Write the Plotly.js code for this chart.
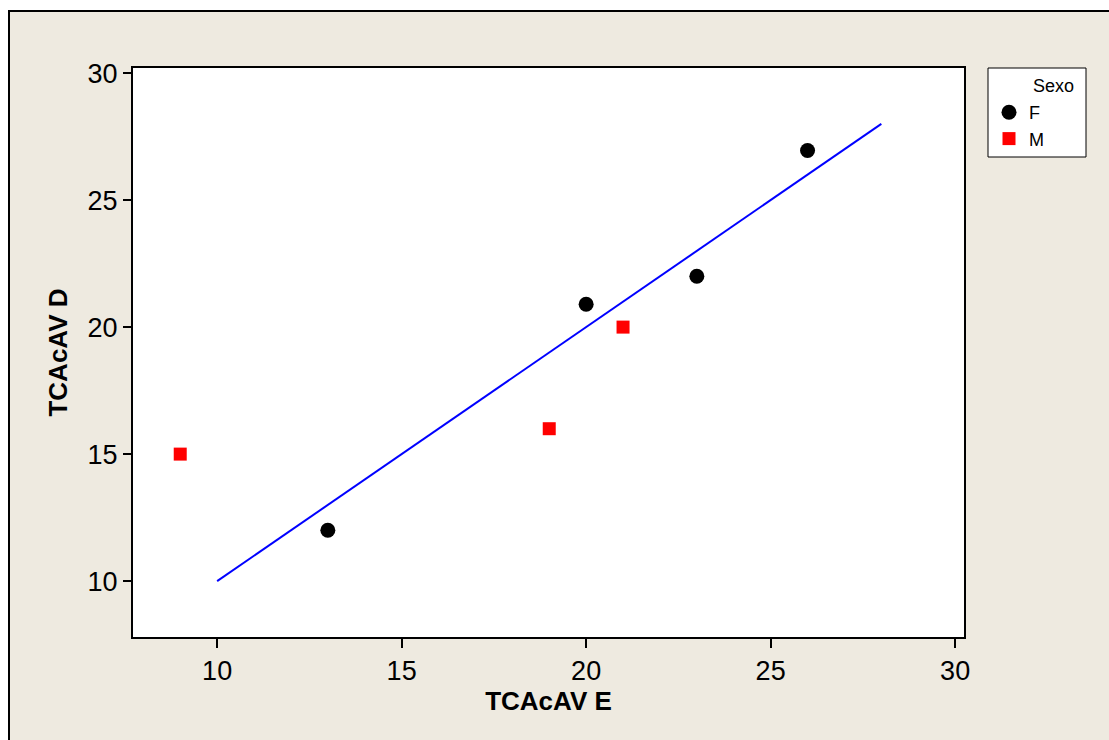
<!DOCTYPE html>
<html>
<head>
<meta charset="utf-8">
<script src="https://cdn.plot.ly/plotly-3.0.1.min.js"></script>
<style>
  html, body { margin: 0; padding: 0; background: #ffffff; width: 1109px; height: 740px; overflow: hidden; }
  #wrap { position: absolute; left: 8px; top: 10px; border-left: 2px solid #000; border-top: 2px solid #000; width: 1099px; height: 728px; }
  #chart { width: 1099px; height: 728px; }
</style>
</head>
<body>
<div id="wrap"><div id="chart"></div></div>
<script>
// Data
const F_x = [13, 20, 23, 26];
const F_y = [12, 20.9, 22, 26.95];
const M_x = [9, 19, 21];
const M_y = [15, 16, 20];
const fit_x = [10, 28];
const fit_y = [10, 28];
const xTicks = [10, 15, 20, 25, 30];
const yTicks = [10, 15, 20, 25, 30];

const FONT = "'Liberation Sans', Arial, sans-serif";
const TICKFONT = "'Liberation Sans Narrow', 'Arial Narrow', 'Liberation Sans', sans-serif";

const traces = [
  { x: fit_x, y: fit_y, mode: 'lines', type: 'scatter', showlegend: false,
    line: { color: '#0000ff', width: 2 }, hoverinfo: 'skip' },
  { x: F_x, y: F_y, mode: 'markers', type: 'scatter', name: 'F',
    marker: { symbol: 'circle', color: '#000000', size: 15 } },
  { x: M_x, y: M_y, mode: 'markers', type: 'scatter', name: 'M',
    marker: { symbol: 'square', color: '#ff0000', size: 13 } }
];

const L = 123, T = 56, W = 831, H = 569;
function px(xp) { return (xp - 10 - L) / W; }
function py(yp) { return 1 - (yp - 12 - T) / H; }

const layout = {
  width: 1099, height: 728,
  margin: { l: L, r: 1099 - L - W, t: T, b: 728 - T - H },
  paper_bgcolor: '#eeeae0',
  plot_bgcolor: '#ffffff',
  font: { family: FONT, color: '#000000', size: 24 },
  xaxis: {
    range: [7.72, 30.24], tickvals: xTicks, ticktext: xTicks.map(String),
    showgrid: false, zeroline: false, showline: true, mirror: true,
    linecolor: '#000', linewidth: 2, ticks: 'outside', ticklen: 9, tickwidth: 2, tickcolor: '#000',
    tickfont: { family: TICKFONT, size: 27, color: '#000' },
    title: { text: 'TCAcAV E', font: { family: FONT, size: 26, color: '#000', weight: 'bold' }, standoff: 4 }
  },
  yaxis: {
    range: [7.8, 30.2], tickvals: yTicks, ticktext: yTicks.map(String),
    showgrid: false, zeroline: false, showline: true, mirror: true,
    linecolor: '#000', linewidth: 2, ticks: 'outside', ticklen: 8, tickwidth: 2, tickcolor: '#000',
    tickfont: { family: TICKFONT, size: 27, color: '#000' },
    title: { text: 'TCAcAV D', font: { family: FONT, size: 26, color: '#000', weight: 'bold' }, standoff: 12 }
  },
  showlegend: true,
  legend: {
    x: px(989), y: py(94), xanchor: 'left', yanchor: 'top',
    bgcolor: 'rgba(0,0,0,0)', borderwidth: 0,
    font: { family: FONT, size: 18, color: '#000' },
    tracegroupgap: 0, itemclick: false
  },
  shapes: [
    { type: 'rect', xref: 'paper', yref: 'paper', x0: px(988), x1: px(1086), y0: py(68), y1: py(157),
      fillcolor: '#ffffff', line: { color: '#000', width: 1 }, layer: 'below' }
  ],
  annotations: [
    { xref: 'paper', yref: 'paper', x: px(1031), y: py(86), xanchor: 'left', yanchor: 'middle',
      text: 'Sexo', showarrow: false, font: { family: FONT, size: 18, color: '#000' } }
  ]
};

Plotly.newPlot('chart', traces, layout, { displayModeBar: false, staticPlot: true });
</script>
</body>
</html>
